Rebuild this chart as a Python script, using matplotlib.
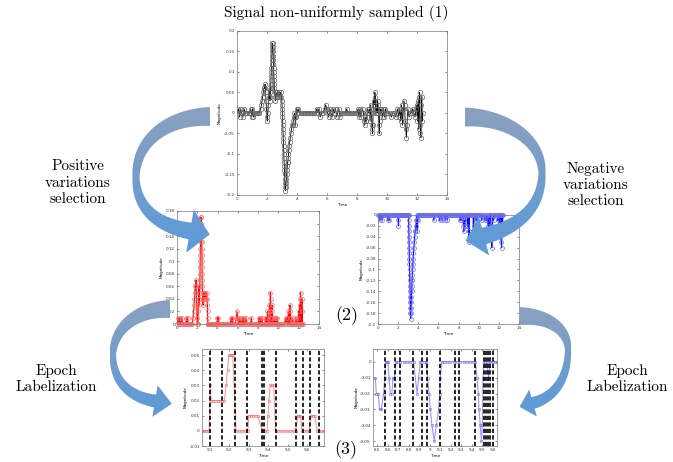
import numpy as np
import matplotlib
matplotlib.use("Agg")
import matplotlib.pyplot as plt
from matplotlib.path import Path
from matplotlib.patches import PathPatch
from matplotlib.colors import LinearSegmentedColormap
from matplotlib.ticker import FuncFormatter

# (1) signal, level-crossing samples (time, magnitude)
sig_t = [0.02, 0.1, 0.18, 0.25, 0.32, 0.4, 0.48, 0.55, 0.62, 0.7, 0.78, 0.86, 0.92, 0.98, 1.04, 1.1, 1.18, 1.26,
         1.34, 1.42, 1.5, 1.58,
         1.64, 1.68, 1.72, 1.76, 1.8, 1.84, 1.88, 1.91, 1.94, 1.97, 2.0, 2.03, 2.06, 2.09, 2.12, 2.15, 2.18, 2.21,
         2.24, 2.25, 2.26, 2.27, 2.28, 2.29, 2.3, 2.31, 2.32, 2.33, 2.34, 2.35, 2.36, 2.38,
         2.4, 2.41, 2.42, 2.43, 2.44, 2.45, 2.46, 2.47, 2.48, 2.49, 2.5, 2.52, 2.54,
         2.57, 2.61, 2.65, 2.7, 2.75, 2.8, 2.86, 2.92, 2.96,
         3.0, 3.01, 3.02, 3.03, 3.04, 3.05, 3.06, 3.07, 3.08, 3.09, 3.1, 3.11, 3.12, 3.13, 3.14, 3.15, 3.16, 3.17,
         3.18, 3.19, 3.2,
         3.22, 3.24, 3.26, 3.28, 3.3, 3.32, 3.34, 3.36, 3.38, 3.4, 3.42, 3.44, 3.46, 3.48,
         3.52, 3.56, 3.6, 3.64, 3.68, 3.72, 3.76, 3.8, 3.84, 3.87, 3.9, 3.94, 3.98, 4.03, 4.08,
         4.15, 4.25, 4.35, 4.45, 4.55, 4.65, 4.75, 4.85, 4.95, 5.05, 5.15, 5.25, 5.32, 5.4, 5.47, 5.55, 5.65,
         5.75, 5.85, 5.92, 5.98, 6.05, 6.12, 6.2, 6.27, 6.35, 6.42, 6.5, 6.58, 6.65, 6.72, 6.8, 6.88, 6.95,
         7.05, 7.15, 7.25, 7.32, 7.4, 7.5, 7.6, 7.7, 7.8, 7.9, 8.0,
         8.08, 8.14, 8.2, 8.26, 8.32, 8.38, 8.44, 8.48, 8.52, 8.56, 8.6, 8.64, 8.68, 8.72, 8.78, 8.84, 8.88,
         8.92, 8.96, 9.0, 9.02, 9.04, 9.06, 9.08, 9.11, 9.14, 9.17, 9.2, 9.23, 9.26, 9.29, 9.32, 9.35, 9.38,
         9.41, 9.44, 9.47, 9.49, 9.51, 9.54, 9.58, 9.62, 9.66, 9.72, 9.78, 9.84, 9.9, 9.96, 10.02,
         10.1, 10.2, 10.3, 10.4, 10.5, 10.6, 10.7, 10.78, 10.86, 10.92, 10.98, 11.04, 11.1, 11.14, 11.18,
         11.22, 11.26, 11.3, 11.34, 11.4, 11.48, 11.56, 11.64, 11.72, 11.8, 11.88, 11.95, 12.0, 12.04, 12.08,
         12.12, 12.15, 12.18, 12.21, 12.24, 12.27, 12.3, 12.33, 12.36, 12.4]
sig_v = [0, 0.01, -0.01, 0.01, 0, -0.01, 0.01, 0, 0, 0, 0, 0, 0.01, -0.01, 0.01, -0.01, 0, 0,
         0, 0, 0, 0.01,
         0.02, 0.03, 0.04, 0.05, 0.06, 0.06, 0.07, 0.05, 0.03, 0.01, -0.01, -0.02, 0, 0.02, 0.04, 0.06, 0.04, 0.03,
         0.05, 0.06, 0.07, 0.08, 0.09, 0.1, 0.11, 0.12, 0.13, 0.14, 0.15, 0.16, 0.17, 0.17,
         0.16, 0.15, 0.14, 0.13, 0.12, 0.11, 0.1, 0.09, 0.08, 0.07, 0.06, 0.05, 0.04,
         0.03, 0.05, 0.04, 0.05, 0.04, 0.05, 0.04, 0.05, 0.04,
         0.03, 0.02, 0.01, 0, -0.01, -0.02, -0.03, -0.04, -0.05, -0.06, -0.07, -0.08, -0.09, -0.1, -0.11, -0.12,
         -0.13, -0.14, -0.15, -0.16, -0.17,
         -0.18, -0.19, -0.18, -0.17, -0.16, -0.15, -0.14, -0.13, -0.12, -0.12, -0.11, -0.1, -0.09, -0.08,
         -0.07, -0.06, -0.05, -0.04, -0.03, -0.03, -0.02, -0.01, 0, -0.01, -0.03, -0.01, 0.01, 0, 0.01,
         0, 0, 0, 0, 0, 0, 0, 0, 0, 0, 0, 0, 0.01, 0, 0.01, -0.01, 0,
         0, 0.01, 0.02, 0.01, 0, -0.01, 0.01, 0, -0.01, 0.01, 0, 0.01, -0.01, 0, 0.01, -0.01, 0,
         0, 0, 0, 0.01, 0, 0, 0, 0, 0, 0, 0,
         0.01, -0.01, 0.01, -0.01, 0, 0.01, 0, -0.02, -0.03, -0.01, -0.02, -0.02, 0, 0.01, 0, 0.01, -0.02,
         0.02, 0, -0.03, -0.04, -0.05, -0.03, 0, 0.03, 0.02, 0.02, 0.05, 0.04, 0, 0.01, 0.01, 0, 0.03,
         0.02, 0, -0.03, -0.05, -0.02, 0.01, 0, 0.01, 0, -0.01, 0.01, -0.01, 0.01, 0, 0,
         0, 0, -0.01, 0, 0, -0.01, 0.01, -0.01, 0.01, -0.02, 0.02, -0.03, 0.01, 0.03, 0.02,
         -0.02, -0.04, -0.06, -0.03, 0.01, -0.01, 0, 0, 0.01, 0, -0.01, 0.01, 0.02, -0.02, 0.03,
         -0.04, 0.04, 0.05, -0.03, -0.05, -0.06, 0.02, 0.04, -0.02, 0]

# (3) epoch views
pos_t = [9.066, 9.074, 9.082, 9.09, 9.098, 9.104, 9.108, 9.118, 9.13, 9.142, 9.154, 9.166, 9.176, 9.185, 9.192,
         9.199, 9.206, 9.213, 9.219, 9.236, 9.25, 9.265, 9.28, 9.296, 9.301, 9.312, 9.324, 9.336, 9.347, 9.37,
         9.382, 9.394, 9.399, 9.404, 9.41, 9.419, 9.428, 9.438, 9.45, 9.465, 9.48, 9.495, 9.51, 9.525, 9.54,
         9.552, 9.558, 9.564, 9.573, 9.585, 9.597, 9.608, 9.62, 9.629, 9.638, 9.65, 9.66, 9.67, 9.68]
pos_v = [0, 0, 0, 0, 0, 0.03, 0.02, 0.02, 0.02, 0.02, 0.02, 0.02, 0.02, 0.03, 0.04,
         0.05, 0.05, 0.05, 0.05, 0, 0, 0, 0, 0, 0.01, 0.01, 0.01, 0.01, 0.01, 0,
         0, 0, 0.01, 0.02, 0.03, 0.03, 0.03, 0, 0, 0, 0, 0, 0, 0, 0,
         0.01, 0.01, 0.01, 0, 0, 0, 0, 0.01, 0.01, 0.01, 0, 0, 0, 0]
pos_epochs = [9.1, 9.163, 9.23, 9.291, 9.366, 9.38, 9.438, 9.544, 9.58, 9.612, 9.658]

neg_t = [8.484, 8.494, 8.51, 8.525, 8.541, 8.563, 8.573, 8.585, 8.595, 8.604, 8.614, 8.627, 8.642, 8.652, 8.665,
         8.684, 8.7, 8.722, 8.753, 8.785, 8.816, 8.848, 8.88, 8.896, 8.911, 8.943, 8.968, 8.981, 8.994, 9.006,
         9.022, 9.044, 9.063, 9.085, 9.095, 9.101, 9.117, 9.133, 9.165, 9.196, 9.228, 9.259, 9.291, 9.323, 9.354,
         9.386, 9.41, 9.434, 9.449, 9.462, 9.468, 9.481, 9.491, 9.5, 9.506, 9.519, 9.544, 9.56, 9.576, 9.601,
         9.623, 9.639]
neg_v = [-0.01, -0.02, -0.02, -0.03, -0.03, -0.02, -0.01, 0, 0, 0, -0.01, -0.02, -0.02, -0.01, -0.01,
         0, 0, 0, 0, 0, 0, 0, -0.02, -0.01, 0, 0, 0, -0.01, -0.02, -0.03,
         -0.04, -0.05, -0.04, -0.03, -0.02, -0.01, 0, 0, 0, 0, 0, 0, 0, 0, 0,
         0, 0, 0, -0.01, -0.02, -0.03, -0.04, -0.05, -0.04, -0.01, 0, 0, -0.01, 0, 0,
         0, 0]
neg_epochs = [8.579, 8.674, 8.715, 8.839, 8.927, 8.975, 9.095, 9.244, 9.282, 9.43, 9.513, 9.538, 9.554,
              9.576, 9.601]

serif = ['cmr10', 'DejaVu Serif']
fmt = FuncFormatter(lambda v, p: '%g' % (round(v, 4) + 0.0))
arrow_cmap = LinearSegmentedColormap.from_list('arr', ['#8ca1c0', '#729dcc', '#5a9bd8'])


def style(ax, xlim, ylim, xt, yt):
    ax.set_xlim(xlim)
    ax.set_ylim(ylim)
    ax.set_xticks(xt)
    ax.set_yticks(yt)
    ax.xaxis.set_major_formatter(fmt)
    ax.yaxis.set_major_formatter(fmt)
    ax.tick_params(direction='in', top=True, right=True, length=1.5, width=0.4,
                   labelsize=3, pad=1.5, colors='#333333')
    for s in ax.spines.values():
        s.set_linewidth(0.5)
        s.set_color('#777777')
    ax.set_xlabel('Time', fontsize=3, labelpad=1.5)
    ax.set_ylabel('Magnitude', fontsize=3, labelpad=1.5)


def bez(p0, p1, p2, p3, n=60):
    t = np.linspace(0, 1, n)[:, None]
    p0, p1, p2, p3 = map(np.array, (p0, p1, p2, p3))
    return (1 - t) ** 3 * p0 + 3 * (1 - t) ** 2 * t * p1 + 3 * (1 - t) * t ** 2 * p2 + t ** 3 * p3


def ribbon_arrow(ax, seg1, seg2, w0, wm, w1, hw, hl):
    c1 = bez(*seg1)
    c2 = bez(*seg2)[1:]
    pts = np.vstack([c1, c2])
    w = np.concatenate([np.linspace(w0, wm, len(c1)), np.linspace(wm, w1, len(c2) + 1)[1:]])
    tan = np.gradient(pts, axis=0)
    tan /= np.linalg.norm(tan, axis=1)[:, None]
    nor = np.column_stack([-tan[:, 1], tan[:, 0]])
    left = pts + nor * w[:, None] / 2
    right = pts - nor * w[:, None] / 2
    end, d, n = pts[-1], tan[-1], nor[-1]
    head = np.array([end + n * hw, end + d * hl, end - n * hw])
    poly = np.vstack([left, head, right[::-1]])
    patch = PathPatch(Path(poly), facecolor='none', edgecolor='none')
    ax.add_patch(patch)
    x0, y0 = poly.min(axis=0)
    x1, y1 = poly.max(axis=0)
    grad = np.linspace(0, 1, 256)[:, None]
    ax.imshow(grad, cmap=arrow_cmap, extent=(x0, x1, y1, y0), aspect='auto',
              interpolation='bilinear', clip_path=patch)


fig = plt.figure(figsize=(6.73, 4.62), dpi=100)

# (1) original signal
ax1 = fig.add_axes([0.352, 0.578, 0.312, 0.355])
ax1.plot(sig_t, sig_v, color='k', lw=0.6, marker='o', ms=3.2, mfc='none', mec='#666666', mew=0.5)
style(ax1, (0, 14), (-0.2, 0.2), np.arange(0, 15, 2), np.arange(-0.2, 0.21, 0.05))

# (2) positive / negative selections
pos_sel = np.clip(sig_v, 0, None)
neg_sel = np.clip(sig_v, None, 0)

ax2 = fig.add_axes([0.263, 0.2987, 0.211, 0.2446])
ax2.plot(sig_t, pos_sel, color='red', lw=0.8, marker='o', ms=2.8, mfc='none', mec='#ff6a6a', mew=0.5,
         clip_on=False)
style(ax2, (0, 14), (0, 0.18), np.arange(0, 15, 2), np.arange(0, 0.181, 0.02))

ax3 = fig.add_axes([0.5617, 0.2987, 0.2095, 0.236])
ax3.plot(sig_t, neg_sel, color='blue', lw=0.8, marker='o', ms=2.8, mfc='none', mec='#6a6aff', mew=0.5,
         clip_on=False)
style(ax3, (0, 14), (-0.2, 0), np.arange(0, 15, 2), np.arange(-0.2, 0.001, 0.02))

# (3) epoch labelization
ax4 = fig.add_axes([0.300, 0.0346, 0.1813, 0.21])
ax4.plot(pos_t, pos_v, color='#ff9a9a', lw=0.8, marker='o', ms=1.8, mfc='none', mec='#ff6a6a', mew=0.4)
for e in pos_epochs:
    ax4.axvline(e, color='k', ls='--', lw=1.2, dashes=(2.5, 1.4))
style(ax4, (9.061, 9.685), (-0.01, 0.054), np.arange(9.1, 9.61, 0.1), np.arange(-0.01, 0.051, 0.01))

ax5 = fig.add_axes([0.5542, 0.0346, 0.1842, 0.21])
ax5.plot(neg_t, neg_v, color='#9a9aff', lw=0.8, marker='o', ms=1.8, mfc='none', mec='#6a6aff', mew=0.4)
for e in neg_epochs:
    ax5.axvline(e, color='k', ls='--', lw=1.2, dashes=(2.5, 1.4))
style(ax5, (8.462, 9.639), (-0.053, 0.008), np.arange(8.5, 9.61, 0.1), np.arange(-0.05, 0.001, 0.01))

# overlay: arrows and captions in pixel coords
ov = fig.add_axes([0, 0, 1, 1])
ov.axis('off')
ribbon_arrow(ov, [(210, 116.5), (168, 116.5), (136, 140), (136, 177)],
             [(136, 177), (136, 210), (160, 226), (190, 231)], 19, 7, 17, 22, 20)
ribbon_arrow(ov, [(465, 117), (507, 117), (542, 140), (542, 173)],
             [(542, 173), (542, 210), (515, 228), (484, 236)], 19, 7, 17, 20, 19)
ribbon_arrow(ov, [(170, 309), (135, 309), (113, 330), (113, 355)],
             [(113, 355), (113, 382), (130, 397), (155, 401)], 18, 6, 13, 16, 17)
ribbon_arrow(ov, [(520, 316), (550, 316), (568, 330), (568, 350)],
             [(568, 350), (568, 378), (555, 397), (533, 403)], 18, 6, 12, 14, 14)
ov.set_xlim(0, 673)
ov.set_ylim(462, 0)

ov.text(336, 13, 'Signal non-uniformly sampled (1)', ha='center', va='center', fontsize=11, family=serif)
ov.text(78, 183, 'Positive\nvariations\nselection', ha='center', va='center', fontsize=11,
        linespacing=1.25, family=serif)
ov.text(596, 185, 'Negative\nvariations\nselection', ha='center', va='center', fontsize=11,
        linespacing=1.25, family=serif)
ov.text(56, 379, 'Epoch\nLabelization', ha='center', va='center', fontsize=11, linespacing=1.25, family=serif)
ov.text(627, 379, 'Epoch\nLabelization', ha='center', va='center', fontsize=11, linespacing=1.25, family=serif)
ov.text(347, 316, '(2)', ha='center', va='center', fontsize=13, family=serif)
ov.text(346, 450, '(3)', ha='center', va='center', fontsize=13, family=serif)

fig.savefig('out.png', dpi=100)
